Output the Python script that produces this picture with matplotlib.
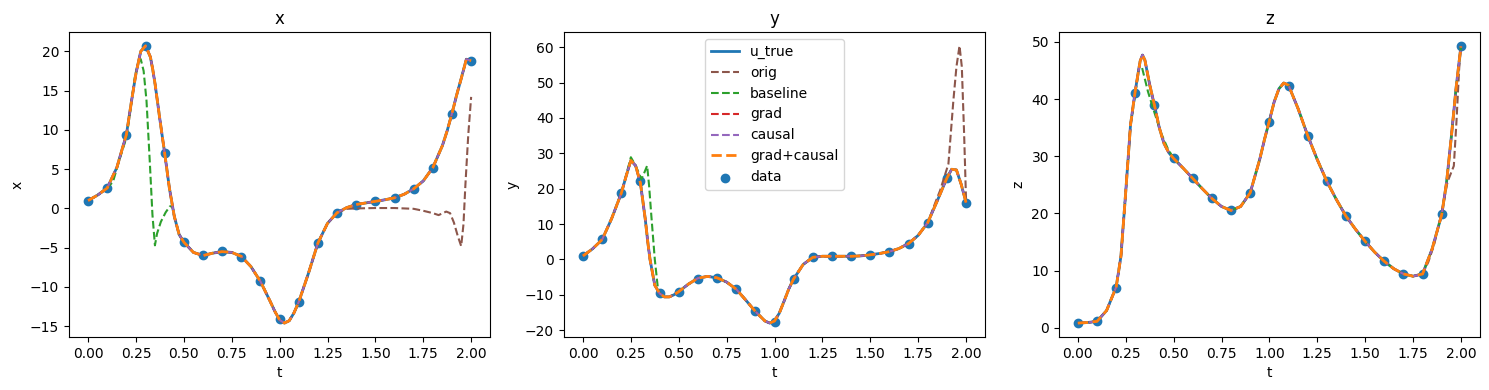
import numpy as np
import matplotlib
matplotlib.use("Agg")
import matplotlib.pyplot as plt

# observation times and sampled data
t_data = np.round(np.arange(0, 2.01, 0.1), 2)
x_data = [1.0, 2.6, 9.4, 20.7, 7.0, -4.25, -5.96, -5.4, -6.13, -9.28, -14.1,
          -11.97, -4.42, -0.55, 0.48, 0.9, 1.33, 2.52, 5.17, 12.07, 18.72]
y_data = [1.0, 5.65, 18.8, 22.1, -9.55, -9.2, -5.46, -5.27, -8.4, -14.6, -17.6,
          -5.56, 0.6, 0.9, 0.9, 1.3, 2.2, 4.5, 10.4, 23.1, 16.1]
z_data = [0.8, 1.2, 7.0, 41.0, 38.9, 29.7, 26.2, 22.6, 20.5, 23.5, 35.9,
          42.3, 33.6, 25.6, 19.5, 15.1, 11.6, 9.4, 9.4, 19.8, 49.3]

# dense reference solution
t_true = [0, 0.05, 0.1, 0.15, 0.2, 0.225, 0.25, 0.275, 0.3, 0.325, 0.3375, 0.35, 0.375,
          0.4, 0.425, 0.45, 0.475, 0.5, 0.55, 0.6, 0.65, 0.7, 0.75, 0.8, 0.85,
          0.9, 0.95, 0.975, 1.0, 1.025, 1.05, 1.075, 1.1, 1.15, 1.2, 1.25, 1.3,
          1.35, 1.4, 1.45, 1.5, 1.55, 1.6, 1.65, 1.7, 1.75, 1.8, 1.85, 1.875,
          1.9, 1.925, 1.95, 1.975, 2.0]
x_true = [1.0, 1.7, 2.6, 5.2, 9.4, 13.4, 17.2, 20.0, 20.7, 19.3, 17.7, 15.8, 11.3,
          7.0, 2.5, -1.0, -3.3, -4.3, -5.6, -6.0, -5.7, -5.5, -5.6, -6.1, -7.4,
          -9.3, -11.8, -13.1, -14.2, -14.6, -14.3, -13.3, -11.9, -8.3, -4.4, -1.9, -0.55,
          0.1, 0.5, 0.7, 0.9, 1.1, 1.35, 1.8, 2.5, 3.5, 5.2, 8.0, 9.9,
          12.1, 14.5, 16.7, 19.0, 18.8]
y_true = [1.0, 3.0, 5.6, 11.6, 18.7, 23.5, 28.0, 26.5, 21.6, 11.5, 5.3, 0.0, -7.3,
          -9.6, -10.6, -10.6, -10.0, -9.1, -7.0, -5.3, -4.8, -5.2, -6.4, -8.4, -11.5,
          -14.7, -17.4, -18.0, -17.4, -15.2, -11.8, -8.3, -5.5, -1.4, 0.6, 0.9, 0.9,
          0.9, 0.9, 1.0, 1.3, 1.7, 2.2, 3.1, 4.5, 6.8, 10.4, 16.6, 19.8,
          23.0, 25.5, 25.3, 21.2, 16.1]
z_true = [0.8, 0.9, 1.1, 3.0, 7.1, 12.5, 23.8, 35.5, 41.5, 46.6, 47.7, 46.8, 42.5,
          38.9, 35.0, 32.2, 30.6, 29.6, 27.9, 26.1, 24.3, 22.6, 21.2, 20.5, 21.2,
          23.6, 29.5, 33.0, 36.2, 39.5, 41.8, 42.8, 42.4, 38.3, 33.6, 29.4, 25.6,
          22.4, 19.5, 17.2, 15.1, 13.2, 11.6, 10.3, 9.4, 9.0, 9.4, 13.8, 16.8,
          19.8, 25.4, 33.4, 42.0, 49.2]

# segments where the 'baseline' model departs from the truth
bx_t = [0.1, 0.13, 0.166, 0.2, 0.218, 0.244, 0.262, 0.275, 0.29, 0.305, 0.322,
        0.336, 0.349, 0.36, 0.38, 0.405, 0.427, 0.44]
bx_v = [2.6, 3.4, 6.4, 9.0, 12.0, 16.7, 18.6, 19.0, 17.5, 13.7, 6.0,
        -0.8, -4.7, -3.2, -1.7, -0.5, 0.26, 0.3]
by_t = [0.2, 0.225, 0.25, 0.275, 0.305, 0.32, 0.335, 0.345, 0.357, 0.375, 0.392, 0.41, 0.43]
by_v = [18.7, 23.7, 28.9, 26.5, 22.7, 24.5, 26.5, 21.0, 12.3, 0.0, -8.6, -10.3, -10.6]
bz_t = [0.3, 0.322, 0.335, 0.366, 0.401, 0.436, 0.47, 0.5]
bz_v = [41.0, 46.0, 45.5, 41.3, 37.5, 33.9, 31.3, 29.6]

# segments where the 'orig' model departs from the truth
ox_t = [1.3, 1.35, 1.4, 1.5, 1.6, 1.7, 1.75, 1.8, 1.83, 1.87, 1.89, 1.91,
        1.93, 1.948, 1.96, 1.97, 1.985, 2.0]
ox_v = [-0.55, -0.05, 0.0, 0.05, 0.05, -0.05, -0.3, -0.6, -0.85, -0.4, -0.6, -1.8,
        -3.5, -4.8, -2.0, 3.0, 9.4, 14.2]
oy_t = [1.8, 1.847, 1.864, 1.908, 1.934, 1.95, 1.966, 1.978, 1.99, 2.0]
oy_v = [10.4, 17.1, 19.4, 27.0, 45.0, 54.5, 60.4, 54.5, 35.5, 17.0]
oz_t = [1.8, 1.83, 1.86, 1.9, 1.93, 1.963, 1.977, 1.991, 2.0]
oz_v = [9.4, 11.5, 14.5, 20.2, 25.5, 28.3, 36.2, 45.4, 49.0]


def splice(t_seg, v_seg, true_vals):
    t_all = np.asarray(t_true)
    v_all = np.asarray(true_vals)
    keep = (t_all < t_seg[0]) | (t_all > t_seg[-1])
    tt = np.concatenate([t_all[keep], t_seg])
    vv = np.concatenate([v_all[keep], v_seg])
    order = np.argsort(tt)
    return tt[order], vv[order]


panels = [
    ("x", x_true, x_data, (bx_t, bx_v), (ox_t, ox_v)),
    ("y", y_true, y_data, (by_t, by_v), (oy_t, oy_v)),
    ("z", z_true, z_data, (bz_t, bz_v), (oz_t, oz_v)),
]

fig, axes = plt.subplots(1, 3, figsize=(14.89, 3.9))
fig.subplots_adjust(left=0.0463, right=0.994, bottom=0.136, top=0.918, wspace=0.1745)

for ax, (name, true_vals, data_vals, base_seg, orig_seg) in zip(axes, panels):
    ax.plot(t_true, true_vals, color="C0", lw=2, label="u_true")
    t_o, v_o = splice(*orig_seg, true_vals)
    ax.plot(t_o, v_o, "--", color="C5", label="orig")
    t_b, v_b = splice(*base_seg, true_vals)
    ax.plot(t_b, v_b, "--", color="C2", label="baseline")
    ax.plot(t_true, true_vals, "--", color="C3", label="grad")
    ax.plot(t_true, true_vals, "--", color="C4", label="causal")
    ax.plot(t_true, true_vals, "--", color="C1", lw=2, label="grad+causal")
    ax.scatter(t_data, data_vals, color="C0", label="data")
    ax.set_title(name)
    ax.set_xlabel("t")
    ax.set_ylabel(name)

axes[1].legend(loc="upper center")

plt.savefig("out.png", dpi=100)
